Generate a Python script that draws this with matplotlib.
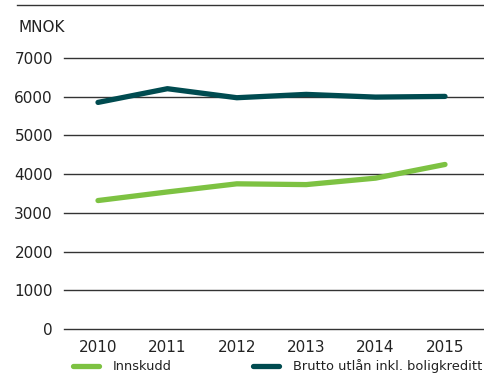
import matplotlib.pyplot as plt
from matplotlib.lines import Line2D

years = [2010, 2011, 2012, 2013, 2014, 2015]
innskudd = [3318, 3540, 3750, 3730, 3897, 4250]
brutto_utlan = [5853, 6207, 5974, 6060, 5990, 6008]
yticks = [0, 1000, 2000, 3000, 4000, 5000, 6000, 7000]

green = "#7dc242"
dark = "#004b50"
grid_col = "#333333"

fig = plt.figure(figsize=(4.84, 3.81), dpi=100)
ax = fig.add_axes([64 / 484, 1 - 329 / 381, 420 / 484, (329 - 58) / 381])

for v in yticks:
    ax.axhline(v, color=grid_col, lw=1.0, zorder=1, clip_on=False)

ax.plot(years, innskudd, color=green, lw=3.8, solid_capstyle="round", solid_joinstyle="round", zorder=3)
ax.plot(years, brutto_utlan, color=dark, lw=3.8, solid_capstyle="round", solid_joinstyle="round", zorder=3)

ax.set_ylim(0, 7000)
ax.set_xlim(2010 - 34 / 69.4, 2015 + 39 / 69.4)
ax.set_yticks(yticks)
ax.set_xticks(years)
ax.set_xticklabels([str(y) for y in years])
ax.tick_params(length=0, labelsize=11, colors="#222222")
ax.tick_params(axis="x", pad=8)
ax.tick_params(axis="y", pad=8)
for s in ax.spines.values():
    s.set_visible(False)

# top rule and unit label
fig.add_artist(Line2D([17 / 484, 1], [1 - 5 / 381] * 2, color=grid_col, lw=1.0))
fig.text(19 / 484, 1 - 28 / 381, "MNOK", fontsize=11, color="#222222", va="center", ha="left")

# legend
ly = 1 - 366 / 381
fig.add_artist(Line2D([73 / 484, 99 / 484], [ly, ly], color=green, lw=3.8, solid_capstyle="round"))
fig.text(113 / 484, ly, "Innskudd", fontsize=9.4, color="#222222", va="center")
fig.add_artist(Line2D([253 / 484, 279 / 484], [ly, ly], color=dark, lw=3.8, solid_capstyle="round"))
fig.text(293 / 484, ly, "Brutto utlån inkl. boligkreditt", fontsize=9.4, color="#222222", va="center")

fig.savefig("out.png", dpi=100)
